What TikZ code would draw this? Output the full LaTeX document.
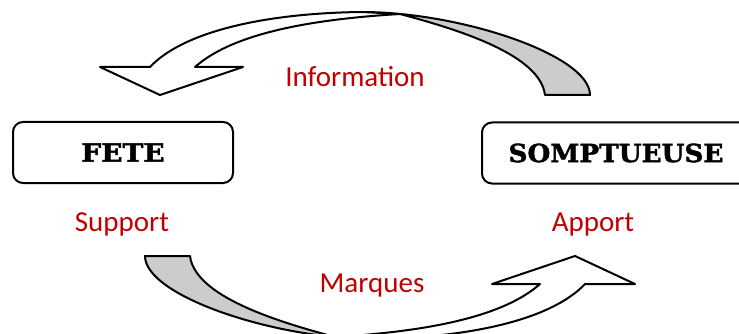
\documentclass[tikz,border=0pt]{standalone}
\usepackage{fontspec}
\setmainfont{Carlito}
\newfontfamily\boxfont{DejaVu Serif Bold}[FakeBold=1.6]
\definecolor{redc}{RGB}{192,0,0}
\newcommand\curvedArrowShape{%
  % white front face with arrow head
  \fill[white] (195,67) -- (243,67) -- (160,95) -- (100,67) -- (150,67)
    .. controls (185,30) and (270,13) .. (362,12) -- (400,14)
    .. controls (300,20) and (230,36) .. (195,67) -- cycle;
  \draw[outline] (400,14) .. controls (300,20) and (230,36) .. (195,67)
    -- (243,67) -- (160,95) -- (100,67) -- (150,67)
    .. controls (185,30) and (270,13) .. (362,12);
  % gray back face (right part of the band)
  \draw[backface] (362,12) .. controls (460,12) and (590,55) .. (590,95)
    -- (545,95) .. controls (540,55) and (460,30) .. (400,14) -- cycle;
}
\begin{document}
\begin{tikzpicture}[x=1pt,y=-1pt,
  outline/.style={draw=black, line width=2pt, line join=round},
  backface/.style={outline, fill=gray!40},
  keybox/.style={draw=black, line width=2pt, rounded corners=10pt,
    minimum width=220pt, minimum height=61pt, inner sep=0pt,
    font=\boxfont\fontsize{25}{30}\selectfont},
  lbl/.style={text=redc, font=\fontsize{29}{34}\selectfont, anchor=base, inner sep=0pt}]
\useasboundingbox (0,0) rectangle (739,334);
\clip (0,0) rectangle (739,334);
% top curved arrow
\curvedArrowShape
% bottom curved arrow (same shape turned half a turn)
\begin{scope}[rotate around={180:(367.5,175.5)}]
\curvedArrowShape
\end{scope}
% boxes
\node[keybox] (fete) at (123,152.5) {\raisebox{-1.5pt}{\scalebox{1.12}[1]{FETE}}};
\node[keybox, minimum width=268pt] (somp) at (616,153) {\raisebox{-1.5pt}{\scalebox{1.05}[1]{SOMPTUEUSE}}};
% labels
\node[lbl] (info) at (355,87) {Information};
\node[lbl] (supp) at (122,231) {Support};
\node[lbl] (appo) at (593,231) {Apport};
\node[lbl] (marq) at (372,292) {Marques};
\end{tikzpicture}
\end{document}
